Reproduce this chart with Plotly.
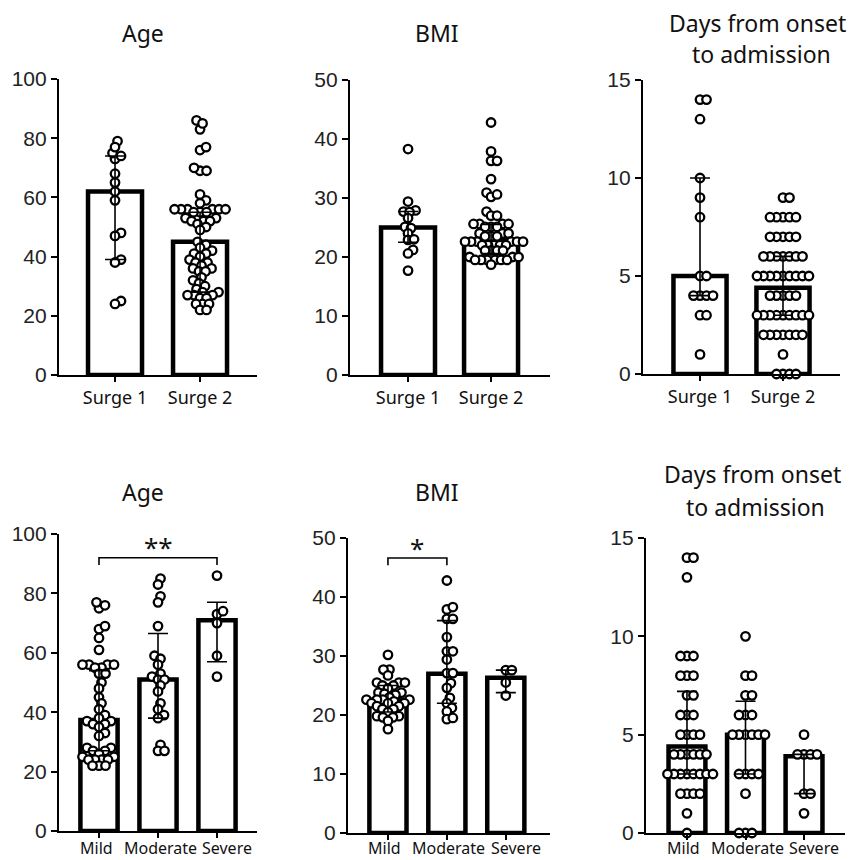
import plotly.graph_objects as go

W, H = 855, 860
OFF = 8                      # page body margin of the html page
FW, FH = W - OFF, H - OFF    # figure size so that it fits the window exactly

# ------------------------------------------------------------------ data
groups_surge = ["Surge 1", "Surge 2"]
groups_sev = ["Mild", "Moderate", "Severe"]

# --- Age by surge
age_surge1 = [79, 73, 74, 75, 77, 68, 65, 62, 59, 48, 47, 39, 38, 25, 24]
age_surge2 = [86, 83, 85, 76, 77, 69, 70, 69, 61, 59, 58, 56, 56, 56, 56, 56, 56,
              55, 55, 55, 53, 53, 52, 52, 52, 51, 50, 49, 45, 44, 43, 42, 41, 41,
              40, 39, 38, 38, 37, 36, 36, 35, 35, 33, 32, 31, 30, 29, 28, 28,
              27, 27, 27, 26, 26, 24, 24, 24, 22, 22]
age_surge_median = [62, 45]
age_surge_q1 = [39, 28]
age_surge_q3 = [74, 55]

# --- BMI by surge
bmi_surge1 = [38.3, 29.4, 27.9, 27.7, 27.6, 26.6, 25.1, 24.9, 24.0, 22.9, 23.0,
              21.2, 20.6, 17.7]
bmi_surge2 = [42.8, 37.9, 36.3, 36.3, 33.2, 30.9, 30.2, 30.6, 27.7, 27.0, 27.0,
              25.6, 25.6, 25.6, 25.6, 25.1, 25.1, 25.1, 24.0, 24.0, 24.0, 23.5,
              23.5, 23.5, 22.6, 22.6, 22.6, 22.6, 22.6, 22.6, 22.0, 22.0, 22.0,
              22.0, 22.0, 21.1, 21.1, 21.1, 21.1, 20.0, 20.0, 20.0, 19.5, 19.5,
              19.5, 19.5, 19.5, 19.5, 18.7]
bmi_surge_median = [25.0, 22.9]
bmi_surge_q1 = [22.5, 20.6]
bmi_surge_q3 = [27.7, 25.5]

# --- Days from onset to admission by surge
days_surge1 = [14, 14, 13, 10, 9, 8, 5, 5, 4, 4, 4, 4, 3, 3, 1]
days_surge2 = [9, 9, 8, 8, 8, 8, 8, 7, 7, 7, 7, 7, 6, 6, 6, 6, 6, 6, 6,
               5, 5, 5, 5, 5, 5, 5, 5, 5, 4, 4, 4, 4, 4,
               3, 3, 3, 3, 3, 3, 3, 3, 3, 2, 2, 2, 2, 2, 2, 2, 1, 0, 0, 0, 0]
days_surge_median = [5, 4.4]
days_surge_q1 = [4, 3]
days_surge_q3 = [10, 6]

# --- Age by severity
age_mild = [75, 77, 76, 68, 69, 65, 61, 56, 56, 56, 56, 55, 55, 53, 53, 50, 48,
            45, 43, 41, 39, 38, 37, 37, 36, 36, 35, 33, 32, 28, 28, 27, 27, 26,
            25, 25, 24, 24, 24, 24, 22, 22, 22]
age_moderate = [85, 83, 79, 77, 69, 59, 58, 56, 53, 52, 51, 51, 49, 47, 43, 41,
                39, 38, 29, 27, 27]
age_severe = [86, 73, 74, 70, 59, 52]
age_sev_median = [37.4, 51, 71]
age_sev_q1 = [27, 38, 57]
age_sev_q3 = [54, 66.5, 77]

# --- BMI by severity
bmi_mild = [30.2, 27.7, 27.7, 26.7, 25.5, 25.5, 25.5, 25.0, 25.0, 24.5, 23.8,
            23.8, 23.6, 23.4, 23.0, 22.6, 22.6, 22.6, 22.6, 22.3, 22.0, 22.0,
            22.0, 21.5, 21.5, 21.0, 21.0, 20.5, 19.8, 19.8, 19.6, 19.6, 19.0, 17.6]
bmi_moderate = [42.8, 37.9, 38.3, 36.3, 36.3, 33.2, 30.8, 30.8, 29.4, 27.1, 27.1,
                25.4, 24.6, 22.9, 22.0, 21.2, 20.6, 19.3, 19.5]
bmi_severe = [27.6, 27.6, 25.5, 23.3]
bmi_sev_median = [22.6, 27.0, 26.3]
bmi_sev_q1 = [20.5, 22.0, 23.8]
bmi_sev_q3 = [25.0, 36.0, 27.6]

# --- Days by severity
days_mild = [14, 14, 13, 9, 9, 9, 8, 8, 8, 7, 7, 6, 6, 6, 5, 5, 5, 5,
             4, 4, 4, 4, 4, 4, 3, 3, 3, 3, 3, 3, 3, 3, 2, 2, 2, 2, 1, 0]
days_moderate = [10, 8, 8, 7, 7, 6, 6, 6, 5, 5, 5, 5, 5, 5, 3, 3, 3, 3, 2, 0, 0, 0]
days_severe = [5, 4, 4, 4, 4, 2, 2, 1]
days_sev_median = [4.4, 5.0, 3.9]
days_sev_q1 = [3, 3, 2]
days_sev_q3 = [7.2, 6.7, 4]

# ------------------------------------------------------------------ layout spec
# box = (left, right, top, bottom) in window pixels
panels = [
    dict(groups=groups_surge, vals=[age_surge1, age_surge2], med=age_surge_median,
         q1=age_surge_q1, q3=age_surge_q3, ymax=100, dtick=20,
         box=(59, 257, 79, 375), xr=(-0.659, 1.67), barw=0.635, xfs=18, sp=6.3),
    dict(groups=groups_surge, vals=[bmi_surge1, bmi_surge2], med=bmi_surge_median,
         q1=bmi_surge_q1, q3=bmi_surge_q3, ymax=50, dtick=10,
         box=(350, 550, 80, 375), xr=(-0.699, 1.71), barw=0.65, xfs=18, sp=6.0),
    dict(groups=groups_surge, vals=[days_surge1, days_surge2], med=days_surge_median,
         q1=days_surge_q1, q3=days_surge_q3, ymax=15, dtick=5,
         box=(643, 840, 80, 374), xr=(-0.687, 1.687), barw=0.64, xfs=18, sp=6.2),
    dict(groups=groups_sev, vals=[age_mild, age_moderate, age_severe], med=age_sev_median,
         q1=age_sev_q1, q3=age_sev_q3, ymax=100, dtick=20,
         box=(59, 257, 534, 831), xr=(-0.678, 2.678), barw=0.63, xfs=16, sp=6.3),
    dict(groups=groups_sev, vals=[bmi_mild, bmi_moderate, bmi_severe], med=bmi_sev_median,
         q1=bmi_sev_q1, q3=bmi_sev_q3, ymax=50, dtick=10,
         box=(348, 550, 538, 833), xr=(-0.678, 2.75), barw=0.63, xfs=16, sp=6.0),
    dict(groups=groups_sev, vals=[days_mild, days_moderate, days_severe], med=days_sev_median,
         q1=days_sev_q1, q3=days_sev_q3, ymax=15, dtick=5,
         box=(646, 845, 538, 833), xr=(-0.70, 2.70), barw=0.63, xfs=16, sp=6.2),
]

# horizontal nudges (px) of the bottom-row category labels, as in the original
sev_label_shift = [-3, 2, 10]


def fx(px):
    return (px - OFF) / FW


def fy(py):
    return 1 - (py - OFF) / FH


def swarm(vals, ppu_y, d):
    """Deterministic beeswarm: pixel x offsets so markers don't overlap."""
    order = sorted(range(len(vals)), key=lambda i: vals[i])
    placed = []
    offs = [0.0] * len(vals)
    for i in order:
        y = vals[i] * ppu_y
        k = 0
        chosen = None
        while chosen is None:
            cands = [0.0] if k == 0 else [k * 0.5, -k * 0.5]
            for c in cands:
                if all((c - px) ** 2 + (y - py) ** 2 >= d * d for px, py in placed):
                    chosen = c
                    break
            k += 1
        offs[i] = chosen
        placed.append((chosen, y))
    return offs


fig = go.Figure()
layout_axes = {}
annotations = []

for k, p in enumerate(panels, start=1):
    xid = "x" if k == 1 else f"x{k}"
    yid = "y" if k == 1 else f"y{k}"
    l, r, t, b = p["box"]
    x0, x1 = p["xr"]
    ppu_x = (r - l) / (x1 - x0)
    ppu_y = (b - t) / p["ymax"]
    n = len(p["groups"])

    fig.add_trace(go.Bar(
        x=list(range(n)), y=p["med"], width=p["barw"],
        marker=dict(color="white", line=dict(color="black", width=4.5)),
        xaxis=xid, yaxis=yid, showlegend=False, hoverinfo="skip"))

    for g, vals in enumerate(p["vals"]):
        offs = swarm(vals, ppu_y, p["sp"])
        fig.add_trace(go.Scatter(
            x=[g + o / ppu_x for o in offs], y=vals, mode="markers",
            marker=dict(symbol="circle", size=8.5, color="white",
                        line=dict(color="black", width=2.3)),
            cliponaxis=False, xaxis=xid, yaxis=yid, showlegend=False))

    fig.add_trace(go.Scatter(
        x=list(range(n)), y=p["med"], mode="markers",
        marker=dict(size=2, color="rgba(0,0,0,0)"),
        error_y=dict(type="data", symmetric=False,
                     array=[q - m for q, m in zip(p["q3"], p["med"])],
                     arrayminus=[m - q for q, m in zip(p["q1"], p["med"])],
                     color="black", thickness=1.6, width=10),
        cliponaxis=False, xaxis=xid, yaxis=yid, showlegend=False, hoverinfo="skip"))

    bottom_row = n == 3
    layout_axes["xaxis" if k == 1 else f"xaxis{k}"] = dict(
        domain=[fx(l), fx(r)], range=[x0, x1], anchor=yid, automargin=False,
        tickvals=list(range(n)), ticktext=p["groups"], tickangle=0,
        showticklabels=not bottom_row,
        ticks="outside", ticklen=5, tickwidth=2, tickcolor="black",
        showline=True, linewidth=2.2, linecolor="black",
        showgrid=False, zeroline=False, fixedrange=True,
        tickfont=dict(family="Noto Sans", size=p["xfs"], color="#111"))
    layout_axes["yaxis" if k == 1 else f"yaxis{k}"] = dict(
        domain=[fy(b), fy(t)], range=[0, p["ymax"]], anchor=xid,
        automargin=False, tick0=0, dtick=p["dtick"],
        ticks="outside", ticklen=6, tickwidth=2, tickcolor="black",
        showline=True, linewidth=2.2, linecolor="black",
        showgrid=False, zeroline=False, fixedrange=True,
        tickfont=dict(family="Liberation Sans, Arial", size=21, color="#222"))

    if bottom_row:
        for g, name in enumerate(p["groups"]):
            annotations.append(dict(
                text=name, x=g, xref=xid, y=fy(848), yref="paper",
                xanchor="center", yanchor="middle", xshift=sev_label_shift[g],
                showarrow=False,
                font=dict(family="Noto Sans", size=p["xfs"], color="#111")))

# titles (one annotation per line)
title_font = dict(family="Noto Sans", size=23, color="#111")
titles = [
    ("Age", 143, 33), ("BMI", 437, 33),
    ("Days from onset", 757, 23), ("to admission", 761, 54),
    ("Age", 143, 492), ("BMI", 437, 492),
    ("Days from onset", 752, 474), ("to admission", 755, 507),
]
for txt, px, py in titles:
    annotations.append(dict(text=txt, x=fx(px), y=fy(py), xref="paper", yref="paper",
                            xanchor="center", yanchor="middle", showarrow=False,
                            font=title_font))

# significance annotations
annotations.append(dict(text="**", x=1, y=95.5, xref="x4", yref="y4", showarrow=False,
                        font=dict(family="Noto Sans", size=26, color="#111")))
annotations.append(dict(text="*", x=0.5, y=48.3, xref="x5", yref="y5", showarrow=False,
                        font=dict(family="Noto Sans", size=26, color="#111")))

shapes = [
    dict(type="path", path="M 0,89.6 L 0,92 L 2,92 L 2,89.6", xref="x4", yref="y4",
         line=dict(color="black", width=1.6)),
    dict(type="path", path="M 0,45.4 L 0,46.6 L 1,46.6 L 1,45.4", xref="x5", yref="y5",
         line=dict(color="black", width=1.6)),
]

fig.update_layout(
    width=FW, height=FH, margin=dict(l=0, r=0, t=0, b=0, autoexpand=False),
    paper_bgcolor="white", plot_bgcolor="white",
    showlegend=False, annotations=annotations, shapes=shapes,
    barmode="overlay", **layout_axes)

fig.write_html("out.html")
